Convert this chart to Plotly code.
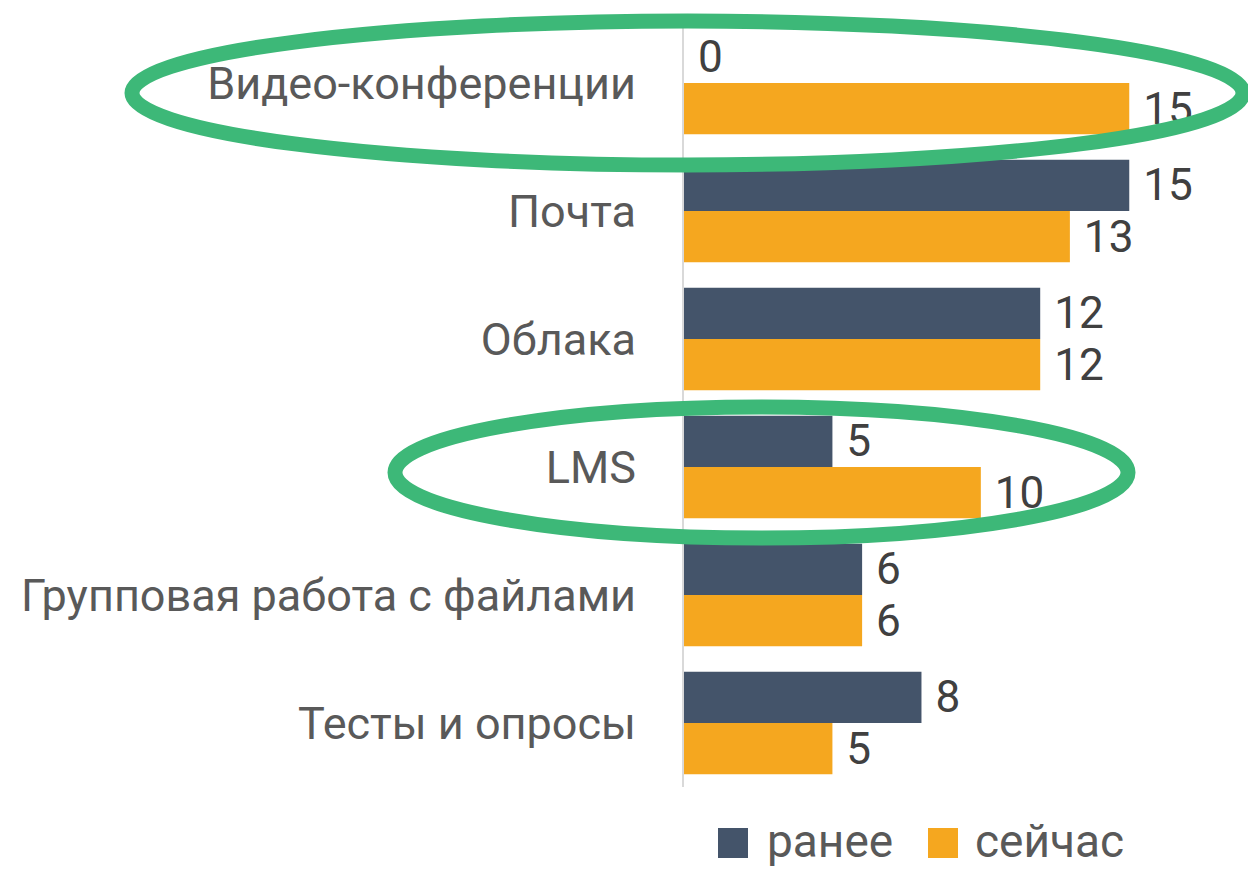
import plotly.graph_objects as go

categories = ["Видео-конференции", "Почта", "Облака", "LMS",
              "Групповая работа с файлами", "Тесты и опросы"]
series_names = ["ранее", "сейчас"]
before_values = [0, 15, 12, 5, 6, 8]
now_values = [15, 13, 12, 10, 6, 5]
colors = ["#44546A", "#F5A71F"]

FONT = "Roboto, sans-serif"

# page body has an 8px margin; work in reference pixel coords and shift
OFF = 8
W, H = 1256 - OFF, 870 - OFF
L, R = 684 - OFF, 1248 - OFF
T, B = 19 - OFF, 787 - OFF

fig = go.Figure()
for name, vals, col in zip(series_names, [before_values, now_values], colors):
    fig.add_trace(go.Bar(
        y=categories, x=vals, name=name, orientation="h",
        marker=dict(color=col, line=dict(width=0)),
        text=vals, texttemplate="\u00a0%{x}", textposition="outside",
        cliponaxis=False,
        textfont=dict(family=FONT, size=50, color="#404040"),
        showlegend=False,
    ))

def px(x):
    return (x - OFF - L) / (R - L)

def py(y):
    return (B - (y - OFF)) / (B - T)

shapes = []
# highlight ellipses
green = "#3DB878"
for (x0, y0, x1, y1) in [(132, 21, 1243, 165), (395, 407, 1128, 538)]:
    shapes.append(dict(type="circle", xref="paper", yref="paper",
                       x0=px(x0), x1=px(x1), y0=py(y1), y1=py(y0),
                       line=dict(color=green, width=15), layer="above"))

# custom legend
annotations = []
leg = [(718, 765), (928, 973)]
for (sx, tx), name, col in zip(leg, series_names, colors):
    shapes.append(dict(type="rect", xref="paper", yref="paper",
                       x0=px(sx), x1=px(sx + 30), y0=py(858), y1=py(828),
                       fillcolor=col, line=dict(width=0)))
    annotations.append(dict(xref="paper", yref="paper", x=px(tx), y=py(841),
                            text=name, showarrow=False, xanchor="left",
                            yanchor="middle",
                            font=dict(family=FONT, size=46, color="#595959")))

fig.update_layout(
    width=W, height=H,
    margin=dict(l=L, r=W - R, t=T, b=H - B, pad=0, autoexpand=False),
    paper_bgcolor="white", plot_bgcolor="white",
    barmode="group", bargap=0.2, bargroupgap=0,
    shapes=shapes, annotations=annotations,
    showlegend=False,
    xaxis=dict(range=[0, 19], visible=False, showgrid=False, zeroline=False,
               automargin=False),
    yaxis=dict(autorange="reversed", showgrid=False, zeroline=False,
               showline=True, linecolor="#D9D9D9", linewidth=2,
               ticks="", ticklabelstandoff=37, automargin=False,
               tickfont=dict(family=FONT, size=45, color="#595959")),
)

fig.write_html("out.html")
